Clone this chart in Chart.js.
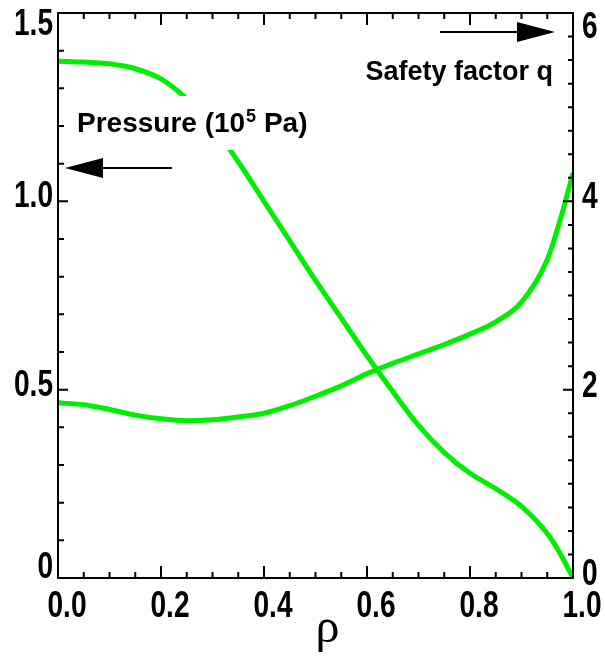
<!DOCTYPE html>
<html>
<head>
<meta charset="utf-8">
<script src="https://cdn.jsdelivr.net/npm/chart.js@4.4.1/dist/chart.umd.min.js"></script>
<style>
  html, body { margin: 0; padding: 0; background: #fff; }
</style>
</head>
<body>
<canvas id="myChart" width="605" height="665"></canvas>
<script>
// normalised radius
const rho = [0, 0.05, 0.1, 0.15, 0.2, 0.25, 0.3, 0.35, 0.4, 0.45, 0.5,
  0.55, 0.6, 0.65, 0.7, 0.75, 0.8, 0.85, 0.9, 0.95, 0.975, 1.0];
// pressure, 10^5 Pa (left axis)
const pressure = [1.372, 1.370, 1.365, 1.352, 1.325, 1.272, 1.200, 1.105, 1.000, 0.895, 0.790,
  0.690, 0.590, 0.495, 0.405, 0.333, 0.278, 0.237, 0.190, 0.118, 0.065, 0.0];
// safety factor q (right axis)
const safetyFactor = [1.86, 1.84, 1.79, 1.73, 1.69, 1.67, 1.68, 1.71, 1.75, 1.83, 1.93,
  2.04, 2.17, 2.28, 2.38, 2.48, 2.59, 2.72, 2.93, 3.38, 3.80, 4.30];

const xLabels = [0, 0.2, 0.4, 0.6, 0.8, 1.0];
const pLabels = [0, 0.5, 1.0, 1.5];
const qLabels = [0, 2, 4, 6];

const green = "#00ee00";
const font = "'Liberation Sans', Arial, sans-serif";

// tick labels are tall and narrow in the original
function narrowText(ctx, text, x, y, align) {
  ctx.save();
  ctx.translate(x, y);
  ctx.scale(0.78, 1);
  ctx.textAlign = align;
  ctx.fillText(text, 0, 0);
  ctx.restore();
}

// axes, inward ticks, labels and annotations
const frame = {
  id: "frame",
  afterDatasetsDraw(chart) {
    const { ctx, chartArea: a, scales } = chart;
    const x = scales.x, p = scales.p, q = scales.q;
    ctx.save();

    // label box covers the pressure curve
    ctx.fillStyle = "#fff";
    ctx.fillRect(a.left + 12, 96, 245, 54);

    ctx.strokeStyle = "#000";
    ctx.lineWidth = 2;
    ctx.strokeRect(a.left, a.top, a.right - a.left, a.bottom - a.top);

    ctx.beginPath();
    for (let k = 1; k < 20; k++) {
      const px = x.getPixelForValue(k * 0.05);
      const len = k % 4 === 0 ? 12 : 6;
      ctx.moveTo(px, a.bottom); ctx.lineTo(px, a.bottom - len);
      ctx.moveTo(px, a.top); ctx.lineTo(px, a.top + len);
    }
    for (let k = 1; k < 15; k++) {
      const py = p.getPixelForValue(k * 0.1);
      const len = k % 5 === 0 ? 10 : 6;
      ctx.moveTo(a.left, py); ctx.lineTo(a.left + len, py);
    }
    for (let k = 1; k < 24; k++) {
      const py = q.getPixelForValue(k * 0.25);
      const len = k % 8 === 0 ? 10 : 5;
      ctx.moveTo(a.right, py); ctx.lineTo(a.right - len, py);
    }
    ctx.stroke();

    ctx.fillStyle = "#000";
    ctx.font = "bold 36px " + font;
    ctx.textBaseline = "middle";
    xLabels.forEach(v => narrowText(ctx, v.toFixed(1), x.getPixelForValue(v) + 9, 607, "center"));
    pLabels.forEach(v => {
      const py = Math.min(Math.max(p.getPixelForValue(v) - 4, a.top + 12), a.bottom - 10);
      narrowText(ctx, v === 0 ? "0" : v.toFixed(1), 53, py, "right");
    });
    qLabels.forEach(v => {
      const py = Math.max(q.getPixelForValue(v) - 3, a.top + 15);
      narrowText(ctx, String(v), 582, py, "left");
    });

    ctx.textAlign = "center";
    ctx.textBaseline = "alphabetic";
    ctx.font = "48px 'Liberation Serif', serif";
    ctx.fillText("ρ", (a.left + a.right) / 2 + 12, 642);

    // series labels
    ctx.font = "bold 28px " + font;
    ctx.textAlign = "left";
    let tx = 77;
    ctx.fillText("Pressure (10", tx, 132);
    tx += ctx.measureText("Pressure (10").width;
    ctx.font = "bold 18px " + font;
    ctx.fillText("5", tx + 1, 122);
    tx += ctx.measureText("5").width + 1;
    ctx.font = "bold 28px " + font;
    ctx.fillText(" Pa)", tx, 132);

    ctx.font = "bold 27px " + font;
    ctx.textAlign = "right";
    ctx.fillText("Safety factor q", 553, 80);

    // arrows
    ctx.beginPath();
    ctx.moveTo(172, 168); ctx.lineTo(100, 168);
    ctx.moveTo(440, 32); ctx.lineTo(520, 32);
    ctx.stroke();
    ctx.beginPath();
    ctx.moveTo(65, 168); ctx.lineTo(103, 158); ctx.lineTo(103, 178); ctx.closePath();
    ctx.moveTo(555, 32); ctx.lineTo(517, 22); ctx.lineTo(517, 42); ctx.closePath();
    ctx.fill();

    ctx.restore();
  }
};

const config = {
  type: "line",
  data: {
    datasets: [
      {
        label: "Pressure",
        data: rho.map((r, i) => ({ x: r, y: pressure[i] })),
        yAxisID: "p",
        borderColor: green,
        borderWidth: 5,
        pointRadius: 0,
        cubicInterpolationMode: "monotone",
        fill: false,
      },
      {
        label: "Safety factor q",
        data: rho.map((r, i) => ({ x: r, y: safetyFactor[i] })),
        yAxisID: "q",
        borderColor: green,
        borderWidth: 5,
        pointRadius: 0,
        cubicInterpolationMode: "monotone",
        fill: false,
      },
    ],
  },
  options: {
    responsive: false,
    animation: false,
    devicePixelRatio: 1,
    layout: { padding: { left: 58, right: 32, top: 13, bottom: 87 } },
    plugins: { legend: { display: false }, tooltip: { enabled: false } },
    scales: {
      x: { type: "linear", min: 0, max: 1, display: false },
      p: { type: "linear", position: "left", min: 0, max: 1.5, display: false },
      q: { type: "linear", position: "right", min: 0, max: 6, display: false },
    },
  },
  plugins: [frame],
};

const myChart = new Chart(document.getElementById("myChart"), config);
</script>
</body>
</html>
